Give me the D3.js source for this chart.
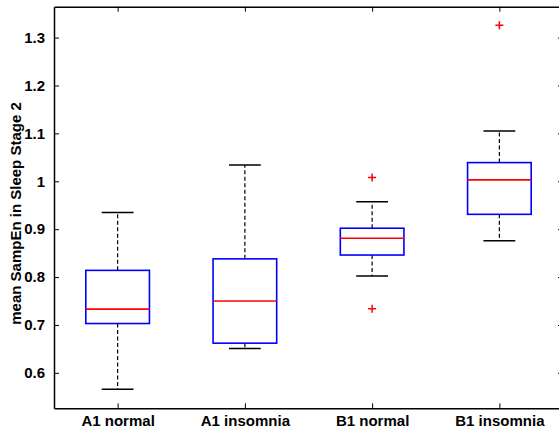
<!DOCTYPE html>
<html>
<head>
<meta charset="utf-8">
<script src="https://cdn.jsdelivr.net/npm/d3@7"></script>
<style>
  body { margin: 0; background: #fff; }
  text { font-family: "Liberation Sans", Arial, Helvetica, sans-serif; font-weight: bold; }
</style>
</head>
<body>
<script>
// box plot stats
const categories = ['A1 normal', 'A1 insomnia', 'B1 normal', 'B1 insomnia'];
const whiskerLow = [0.566, 0.651, 0.802, 0.876];
const q1 = [0.703, 0.662, 0.846, 0.931];
const median = [0.733, 0.750, 0.881, 1.003];
const q3 = [0.814, 0.838, 0.902, 1.039];
const whiskerHigh = [0.935, 1.034, 0.957, 1.105];
const outliers = [[], [], [1.008, 0.734], [1.326]];
const yTicks = [0.6, 0.7, 0.8, 0.9, 1, 1.1, 1.2, 1.3];

const width = 559;
const height = 430;
const plotLeft = 54, plotRight = 563, plotTop = 6.7, plotBottom = 408.3;

const svg = d3.select('body')
  .append('svg')
  .attr('width', width)
  .attr('height', height);

const x = d3.scaleLinear().domain([0.5, 4.5]).range([plotLeft, plotRight]);
const y = d3.scaleLinear().domain([0.526, 1.3645]).range([plotBottom, plotTop]);

// axes: bottom + left with labels, top + right mirrored ticks
const tickLen = 5;
svg.append('g')
  .attr('transform', `translate(0,${plotBottom})`)
  .call(d3.axisBottom(x).tickValues([1, 2, 3, 4])
    .tickFormat(d => categories[d - 1])
    .tickSizeInner(-tickLen).tickSizeOuter(0).tickPadding(7))
  .call(g => g.selectAll('text').attr('font-size', 15).attr('fill', '#000'));

svg.append('g')
  .attr('transform', `translate(${plotLeft},0)`)
  .call(d3.axisLeft(y).tickValues(yTicks)
    .tickFormat(d3.format('~g'))
    .tickSizeInner(-tickLen).tickSizeOuter(0).tickPadding(tickLen + 4))
  .call(g => g.selectAll('text').attr('font-size', 15).attr('fill', '#000'));

svg.append('g')
  .attr('transform', `translate(0,${plotTop})`)
  .call(d3.axisTop(x).tickValues([1, 2, 3, 4]).tickFormat('')
    .tickSizeInner(-tickLen).tickSizeOuter(0));

svg.append('g')
  .attr('transform', `translate(${plotRight},0)`)
  .call(d3.axisRight(y).tickValues(yTicks).tickFormat('')
    .tickSizeInner(-tickLen).tickSizeOuter(0));

svg.selectAll('.domain').attr('stroke', '#000').attr('stroke-width', 1.5);
svg.selectAll('.tick line').attr('stroke', '#000').attr('stroke-width', 1);

// y label
svg.append('text')
  .attr('transform', `translate(21,${(plotTop + plotBottom) / 2 + 6}) rotate(-90)`)
  .attr('text-anchor', 'middle')
  .attr('font-size', 15)
  .text('mean SampEn in Sleep Stage 2');

const boxW = 0.25;  // half width in x units
const capW = 0.125;

const boxes = svg.append('g')
  .selectAll('g')
  .data(categories)
  .join('g');

// dashed whiskers
boxes.append('line')
  .attr('x1', (d, i) => x(i + 1)).attr('x2', (d, i) => x(i + 1))
  .attr('y1', (d, i) => y(q3[i])).attr('y2', (d, i) => y(whiskerHigh[i]))
  .attr('stroke', '#000').attr('stroke-width', 1.2).attr('stroke-dasharray', '4,2.5');
boxes.append('line')
  .attr('x1', (d, i) => x(i + 1)).attr('x2', (d, i) => x(i + 1))
  .attr('y1', (d, i) => y(q1[i])).attr('y2', (d, i) => y(whiskerLow[i]))
  .attr('stroke', '#000').attr('stroke-width', 1.2).attr('stroke-dasharray', '4,2.5');

// caps
[whiskerHigh, whiskerLow].forEach(arr => {
  boxes.append('line')
    .attr('x1', (d, i) => x(i + 1 - capW)).attr('x2', (d, i) => x(i + 1 + capW))
    .attr('y1', (d, i) => y(arr[i])).attr('y2', (d, i) => y(arr[i]))
    .attr('stroke', '#000').attr('stroke-width', 1.5);
});

// box
boxes.append('rect')
  .attr('x', (d, i) => x(i + 1 - boxW))
  .attr('width', x(1 + boxW) - x(1 - boxW))
  .attr('y', (d, i) => y(q3[i]))
  .attr('height', (d, i) => y(q1[i]) - y(q3[i]))
  .attr('fill', 'none').attr('stroke', '#0000ff').attr('stroke-width', 1.6);

// median
boxes.append('line')
  .attr('x1', (d, i) => x(i + 1 - boxW)).attr('x2', (d, i) => x(i + 1 + boxW))
  .attr('y1', (d, i) => y(median[i])).attr('y2', (d, i) => y(median[i]))
  .attr('stroke', '#ff0000').attr('stroke-width', 1.6);

// outliers as red plus signs
const pts = [];
outliers.forEach((arr, i) => arr.forEach(v => pts.push({ i, v })));
svg.append('g')
  .selectAll('path')
  .data(pts)
  .join('path')
  .attr('d', p => {
    const cx = x(p.i + 1), cy = y(p.v), r = 4;
    return `M${cx - r},${cy}H${cx + r}M${cx},${cy - r}V${cy + r}`;
  })
  .attr('stroke', '#ff0000').attr('stroke-width', 1.5).attr('fill', 'none');
</script>
</body>
</html>
